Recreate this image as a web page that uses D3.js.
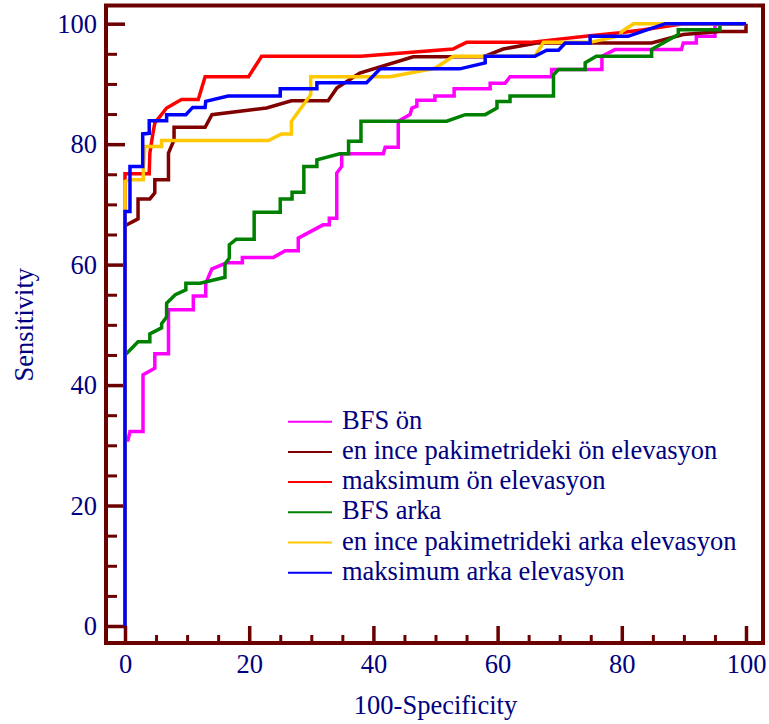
<!DOCTYPE html>
<html>
<head>
<meta charset="utf-8">
<script src="https://cdn.jsdelivr.net/npm/d3@7"></script>
<style>
  body { margin: 0; background: #fff; }
  text { font-family: "Liberation Serif", "Times New Roman", serif; fill: #000080; }
</style>
</head>
<body>
<svg width="769" height="724"></svg>
<script>
// ROC curves, points as [100-Specificity, Sensitivity]
const seriesNames = [
  'BFS ön',
  'en ince pakimetrideki ön elevasyon',
  'maksimum ön elevasyon',
  'BFS arka',
  'en ince pakimetrideki arka elevasyon',
  'maksimum arka elevasyon'
];
const seriesColors = ['#ff00ff', '#800000', '#ff0000', '#008000', '#ffc800', '#0000ff'];

const bfsOn = [[0,0],[0,30.9],[0.5,30.9],[0.8,32.3],[2.9,32.3],[2.9,41.7],[4.8,42.8],[4.8,45.2],[7.0,45.2],[7.0,52.5],[11.0,52.5],[11.0,54.8],[13.0,54.8],[13.0,56.9],[14.0,59.3],[16.4,60.3],[18.9,60.3],[18.9,61.2],[23.9,61.2],[25.8,62.3],[27.9,62.3],[27.9,64.4],[31.9,66.6],[32.9,66.6],[32.9,67.7],[34.1,67.7],[34.1,75.2],[34.9,76.3],[34.9,78.4],[41.6,78.4],[41.9,79.5],[44.0,79.5],[44.0,83.8],[45.9,84.9],[46.2,86.0],[47.0,86.3],[47.0,87.3],[49.9,87.3],[49.9,88.0],[53.0,88.0],[53.0,89.2],[58.8,89.2],[58.8,90.1],[61.2,90.1],[62.0,91.2],[68.7,91.2],[68.7,92.4],[76.8,92.4],[76.8,94.6],[78.9,95.7],[89.6,95.7],[89.9,96.8],[92.0,96.8],[92.0,97.9],[95.0,97.9],[95.0,100],[100,100]];
const inceOn = [[0,0],[0,66.6],[0.3,66.6],[2.1,67.6],[2.1,70.9],[4.0,70.9],[4.8,71.9],[4.8,74.1],[7.0,74.1],[7.0,78.5],[7.9,80.7],[7.9,82.8],[12.9,82.8],[14.0,84.9],[22.8,86.0],[26.8,87.2],[32.7,87.2],[34.1,89.3],[37.8,91.8],[46.4,94.5],[57.7,94.5],[60.9,95.8],[66.3,96.8],[84.8,96.8],[89.9,98.2],[95.8,98.7],[100,98.7],[100,100]];
const maksOn = [[0,0],[0,75.1],[3.9,75.1],[4.0,78.5],[4.5,81.8],[4.8,83.5],[6.7,86.0],[9.1,87.4],[11.8,87.4],[12.9,91.2],[19.9,91.2],[22.0,94.6],[38.0,94.6],[52.8,95.8],[55.0,96.9],[65.2,96.9],[74.9,98.0],[79.7,98.5],[83.5,99.0],[89.9,100],[100,100]];
const bfsArka = [[0,0],[0,45.3],[0.3,45.3],[2.1,47.2],[4.0,47.2],[4.0,48.5],[5.9,49.5],[5.9,50.2],[6.7,51.3],[6.7,53.6],[8.1,55.0],[9.8,55.8],[9.8,56.9],[12.1,56.9],[16.1,57.9],[16.1,60.1],[16.8,61.1],[16.8,63.3],[17.9,64.2],[20.8,64.2],[20.8,68.7],[25.0,68.7],[25.0,70.9],[26.9,70.9],[26.9,72.0],[28.8,72.0],[28.8,76.3],[30.9,76.3],[30.9,77.4],[34.6,78.4],[36.0,78.4],[36.0,80.5],[38.0,80.5],[38.0,83.8],[51.8,83.8],[54.8,84.9],[58.0,84.9],[59.9,86.0],[59.9,87.1],[62.0,87.1],[62.0,88.0],[69.0,88.0],[69.0,91.5],[69.8,92.4],[74.1,92.4],[74.1,93.5],[75.9,94.6],[84.8,94.6],[84.8,95.7],[89.1,98.2],[89.1,99.0],[95.8,99.0],[95.8,100],[100,100]];
const inceArka = [[0,0],[0,73.8],[0.8,74.1],[2.95,74.1],[2.95,75.7],[3.2,79.6],[5.9,79.6],[5.9,80.6],[23.1,80.6],[25.2,81.7],[26.8,81.7],[26.8,83.8],[29.9,88.2],[29.9,91.2],[42.7,91.2],[49.9,92.6],[52.9,94.6],[66.0,94.6],[67.4,96.9],[74.9,96.9],[79.7,98.0],[80.0,98.7],[81.9,100],[100,100]];
const maksArka = [[0,0],[0,68.8],[0.8,68.8],[0.8,76.3],[2.85,76.3],[2.85,81.7],[3.9,81.8],[3.9,83.9],[6.7,83.9],[6.7,84.9],[9.8,84.9],[10.9,86.1],[12.9,86.1],[13.0,87.1],[16.6,88.0],[25.0,88.0],[25.0,89.2],[30.9,89.2],[30.9,90.2],[38.9,90.2],[41.1,92.5],[53.9,92.5],[58.0,93.5],[58.0,94.6],[66.0,94.6],[67.9,95.6],[69.8,95.6],[70.9,96.8],[74.9,96.8],[74.9,97.9],[81.0,97.9],[87.0,100],[100,100]];

const seriesValues = [bfsOn, inceOn, maksOn, bfsArka, inceArka, maksArka];

const xMajorTicks = [0, 20, 40, 60, 80, 100];
const yMajorTicks = [0, 20, 40, 60, 80, 100];
const xAxisLabel = '100-Specificity';
const yAxisLabel = 'Sensitivity';

const svg = d3.select('svg');
const axisColor = '#6b0000';
const fontSize = 26.5;

// frame edges
const frame = {left: 106, right: 763, top: 5.5, bottom: 643};

const xScale = d3.scaleLinear().domain([0, 100]).range([125, 746]);
const yScale = d3.scaleLinear().domain([0, 100]).range([626, 23.7]);

const minorTicks = d3.range(0, 101, 5).filter(v => v % 20 !== 0);

// bottom axis: ticks point up into the plot, labels below
svg.append('g')
  .attr('transform', `translate(0, ${frame.bottom})`)
  .call(d3.axisBottom(xScale).tickValues(xMajorTicks).tickSize(-17).tickPadding(11));
svg.append('g')
  .attr('transform', `translate(0, ${frame.bottom})`)
  .call(d3.axisBottom(xScale).tickValues(minorTicks).tickSize(-8).tickFormat(''))
  .attr('class', 'minor');

// left axis
svg.append('g')
  .attr('transform', `translate(${frame.left}, 0)`)
  .call(d3.axisLeft(yScale).tickValues(yMajorTicks).tickSize(-19).tickPadding(9));
svg.append('g')
  .attr('transform', `translate(${frame.left}, 0)`)
  .call(d3.axisLeft(yScale).tickValues(minorTicks).tickSize(-11).tickFormat(''))
  .attr('class', 'minor');

svg.selectAll('.domain').remove();
svg.selectAll('.tick line').attr('stroke', axisColor).attr('stroke-width', 3.5);
svg.selectAll('.minor .tick line').attr('stroke-width', 3);
svg.selectAll('.tick text')
  .attr('font-size', fontSize)
  .attr('fill', '#000080');

svg.append('rect')
  .attr('x', frame.left)
  .attr('y', frame.top)
  .attr('width', frame.right - frame.left)
  .attr('height', frame.bottom - frame.top)
  .attr('fill', 'none')
  .attr('stroke', axisColor)
  .attr('stroke-width', 4);

// curves, drawn in legend order so the blue one ends on top
const line = d3.line()
  .x(d => xScale(d[0]))
  .y(d => yScale(d[1]));

svg.append('g').selectAll('path')
  .data(seriesValues)
  .enter().append('path')
    .attr('d', line)
    .attr('fill', 'none')
    .attr('stroke', (d, i) => seriesColors[i])
    .attr('stroke-width', 3.5)
    .attr('stroke-linejoin', 'miter');

// legend
const legend = svg.append('g').attr('transform', 'translate(288, 421.7)');
const rows = legend.selectAll('g')
  .data(seriesNames)
  .enter().append('g')
    .attr('transform', (d, i) => `translate(0, ${i * 30.2})`);
rows.append('line')
  .attr('x1', 0).attr('x2', 44)
  .attr('stroke', (d, i) => seriesColors[i])
  .attr('stroke-width', 2);
rows.append('text')
  .attr('x', 54)
  .attr('y', 7)
  .attr('font-size', fontSize)
  .text(d => d);

// axis titles
svg.append('text')
  .attr('x', 435.5)
  .attr('y', 714)
  .attr('text-anchor', 'middle')
  .attr('font-size', fontSize)
  .text(xAxisLabel);

svg.append('text')
  .attr('transform', 'translate(33, 324.7) rotate(-90)')
  .attr('text-anchor', 'middle')
  .attr('font-size', fontSize)
  .text(yAxisLabel);
</script>
</body>
</html>
